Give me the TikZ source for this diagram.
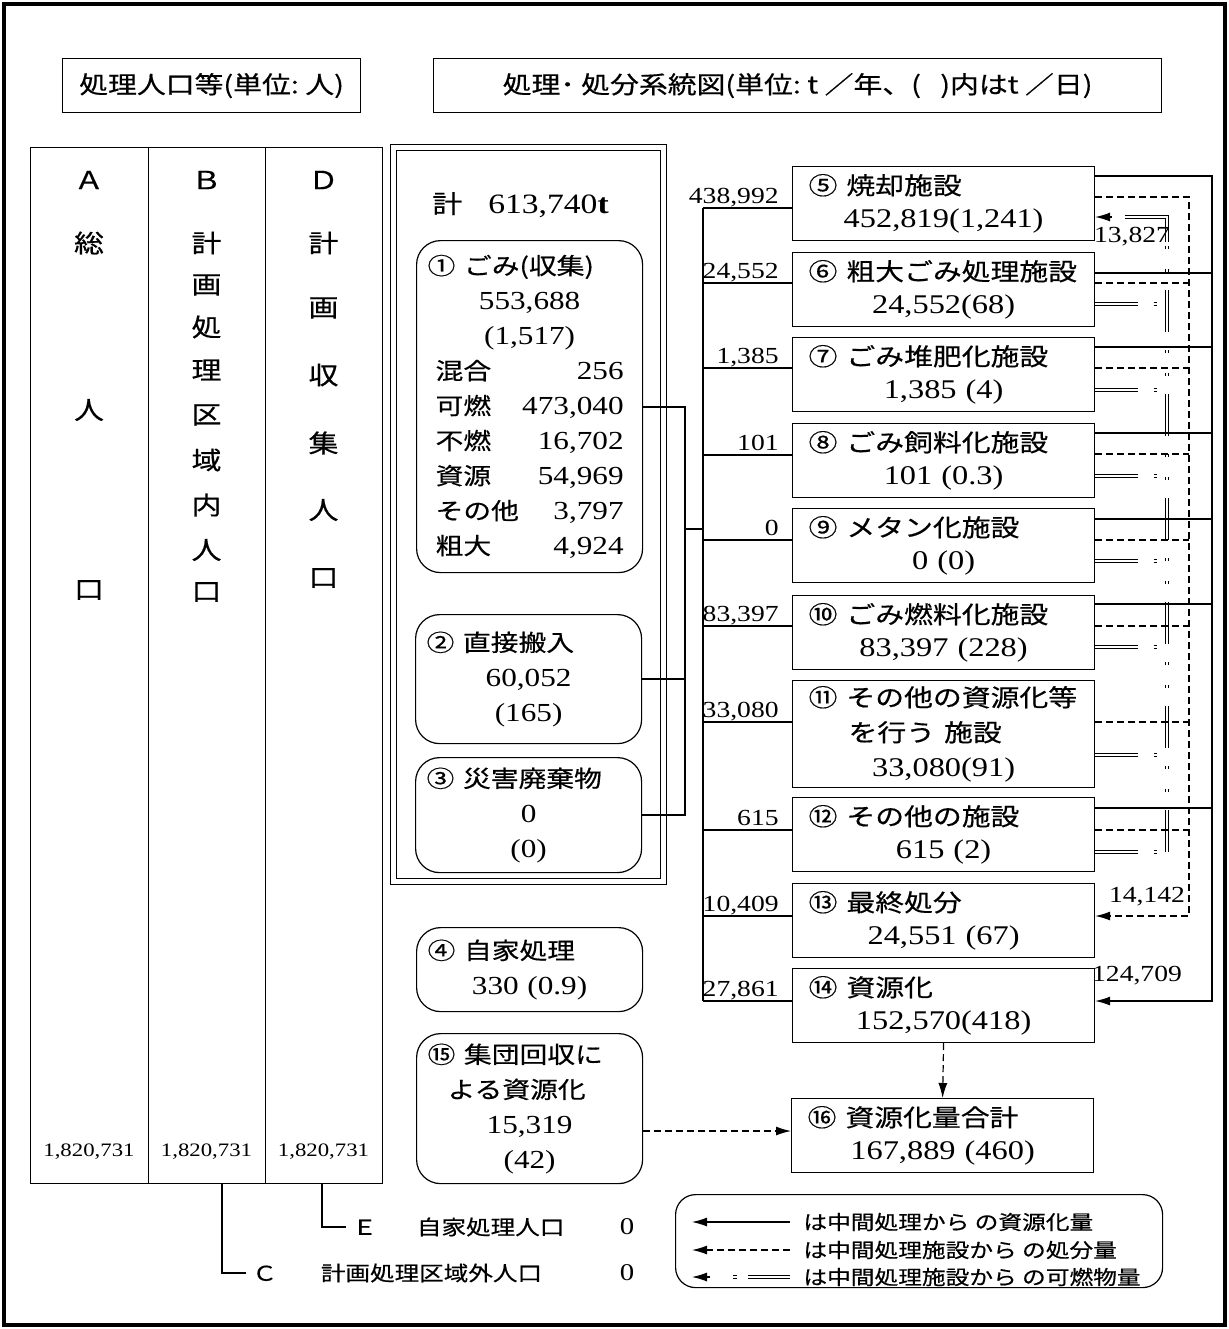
\documentclass[tikz,border=0pt]{standalone}
\usepackage{fontspec}
\setmainfont[FakeStretch=1.2]{Liberation Serif}
\newfontfamily\jp[FakeStretch=1.2,FakeBold=0.5,Scale=0.89]{Noto Sans CJK JP}
\usetikzlibrary{arrows.meta}
\newcommand\wrow[2]{\makebox[94pt]{{\jp #1}\hfill #2}}
\begin{document}
\begin{tikzpicture}[x=0.5pt,y=-0.5pt,
  fr/.style={draw,line width=0.6pt,anchor=north west,inner sep=0pt},
  fac/.style={draw,line width=0.6pt,anchor=north west,minimum width=151pt,minimum height=37pt,inner xsep=8pt,inner ysep=0pt,text width=135pt,align=center,font=\fontsize{13.5}{16.5}\selectfont},
  src/.style={draw,line width=0.6pt,rounded corners=12pt,anchor=north west,minimum width=113pt,inner xsep=5.5pt,inner ysep=0pt,text width=102pt,align=center,font=\fontsize{13}{17.5}\selectfont},
  lbl/.style={inner sep=0pt,anchor=base east,font=\fontsize{11.5}{12}\selectfont},
  rlbl/.style={inner sep=0pt,font=\fontsize{11.5}{12}\selectfont},
  tch/.style={inner sep=0pt,font=\fontsize{14}{15}\selectfont},
  trunk/.style={line width=1pt},
  res/.style={line width=0.55pt},
  disp/.style={line width=0.6pt,dash pattern=on 3.5pt off 2pt},
  comb/.style={double,line width=0.55pt,double distance=1pt},
  arrw/.style={-{Latex[length=7.5pt,width=4.5pt]}},
]
\useasboundingbox (0,0) rectangle (1229,1329);
\fill[white] (0,0) rectangle (1229,1329);
\draw[line width=1.6pt] (4,4) rectangle (1225,1325);

% headers
\node[fr,minimum width=149pt,minimum height=27pt,font=\fontsize{13.5}{16}\selectfont] (h1) at (62,58) {\jp 処理人口等(単位:\ 人)};
\node[fr,minimum width=364pt,minimum height=27pt,font=\fontsize{13.5}{16}\selectfont] (h2) at (433,58) {\jp 処理･ 処分系統図(単位:\ t ／年、(\ \ \ )内はt ／日)};

% population table
\node[fr,minimum width=59pt,minimum height=518pt] (colA) at (30,147) {};
\node[fr,minimum width=58.5pt,minimum height=518pt] (colB) at (148,147) {};
\node[fr,minimum width=58.5pt,minimum height=518pt] (colD) at (265,147) {};
\foreach \c/\y in {Ａ/180,総/243,人/410,口/590}
  \node[tch] (ca\y) at (89,\y) {\jp\c};
\foreach \c/\y in {Ｂ/180,計/243,画/285,処/327,理/370,区/415,域/460,内/505,人/550,口/592}
  \node[tch] (cb\y) at (206.5,\y) {\jp\c};
\foreach \c/\y in {Ｄ/180,計/243,画/308,収/375,集/443,人/510,口/578}
  \node[tch] (cd\y) at (323.5,\y) {\jp\c};
\node[font=\fontsize{9.5}{11}\selectfont] (pA) at (89,1152) {1,820,731};
\node[font=\fontsize{9.5}{11}\selectfont] (pB) at (206.5,1152) {1,820,731};
\node[font=\fontsize{9.5}{11}\selectfont] (pD) at (323.5,1152) {1,820,731};

\node[anchor=west,inner sep=0pt,font=\fontsize{11.5}{14}\selectfont] (eLbl) at (352,1227) {\jp Ｅ\hspace{20pt}自家処理人口};
\node[inner sep=0pt,font=\fontsize{12}{14}\selectfont] (eVal) at (627,1227) {0};
\node[anchor=west,inner sep=0pt,font=\fontsize{11.5}{14}\selectfont] (cLbl) at (252,1273) {\jp Ｃ\hspace{22pt}計画処理区域外人口};
\node[inner sep=0pt,font=\fontsize{12}{14}\selectfont] (cVal) at (627,1273) {0};
\draw[res] ([xshift=28.5pt]colD.south west) |- ([xshift=-3pt]eLbl.west);
\draw[res] ([xshift=37pt]colB.south west) |- ([xshift=-3pt]cLbl.west);

% left double frame and sources
\node[draw,double,double distance=2.4pt,line width=0.6pt,anchor=north west,inner sep=0pt,minimum width=135pt,minimum height=367pt] (frame) at (392.5,147) {};
\node[anchor=base west,inner sep=0pt,font=\fontsize{14}{16}\selectfont] (total) at (432,213) {{\jp 計}\hspace{13pt}613,740\textbf{t}};

\node[src,minimum height=166pt] (s1) at (416,240) {%
\makebox[102pt][l]{\jp ① ごみ(収集)}\\
553,688\\
(1,517)\\
\wrow{混合}{256}\\
\wrow{可燃}{473,040}\\
\wrow{不燃}{16,702}\\
\wrow{資源}{54,969}\\
\wrow{その他}{3,797}\\
\wrow{粗大}{4,924}};
\node[src,minimum height=64.5pt] (s2) at (415,614) {%
\makebox[102pt][l]{\jp ② 直接搬入}\\60,052\\(165)};
\node[src,minimum height=57.5pt] (s3) at (415,757) {%
\makebox[102pt][l]{\jp ③ 災害廃棄物}\\0\\(0)};
\node[src,minimum height=42pt] (s4) at (416,927) {%
\makebox[102pt][l]{\jp ④ 自家処理}\\330 (0.9)};
\node[src,minimum height=75pt] (s15) at (416,1033) {%
\makebox[102pt][l]{\jp ⑮ 集団回収に}\\
\makebox[102pt][l]{\hspace{10pt}\jp よる資源化}\\
15,319\\(42)};

% facilities
\node[fac] (b5) at (792,166) {\makebox[135pt][l]{\jp ⑤ 焼却施設}\\452,819(1,241)};
\node[fac] (b6) at (792,252) {\makebox[135pt][l]{\jp ⑥ 粗大ごみ処理施設}\\24,552(68)};
\node[fac] (b7) at (792,337) {\makebox[135pt][l]{\jp ⑦ ごみ堆肥化施設}\\1,385 (4)};
\node[fac] (b8) at (792,423) {\makebox[135pt][l]{\jp ⑧ ごみ飼料化施設}\\101 (0.3)};
\node[fac] (b9) at (792,508) {\makebox[135pt][l]{\jp ⑨ メタン化施設}\\0 (0)};
\node[fac] (b10) at (792,595) {\makebox[135pt][l]{\jp ⑩ ごみ燃料化施設}\\83,397 (228)};
\node[fac,minimum height=53.5pt,font=\fontsize{13.5}{17.5}\selectfont] (b11) at (792,680) {\makebox[135pt][l]{\jp ⑪ その他の資源化等}\\\makebox[135pt][l]{\hspace{20pt}\jp を行う 施設}\\33,080(91)};
\node[fac] (b12) at (792,797) {\makebox[135pt][l]{\jp ⑫ その他の施設}\\615 (2)};
\node[fac] (b13) at (792,883) {\makebox[135pt][l]{\jp ⑬ 最終処分}\\24,551 (67)};
\node[fac] (b14) at (792,968) {\makebox[135pt][l]{\jp ⑭ 資源化}\\152,570(418)};
\node[fac] (b16) at (791,1098) {\makebox[135pt][l]{\jp ⑯ 資源化量合計}\\167,889 (460)};

% left connections
\coordinate (jn) at (685,529);
\coordinate (tt) at (703,208);
\coordinate (tb) at (703,1001);
\draw[trunk] (s1.east) -| (jn);
\draw[trunk] (s2.east) -| (jn);
\draw[trunk] (s3.east) -| (jn);
\draw[trunk] (jn) -- (tt |- jn);
\draw[trunk] (tt) -- (tb);
\foreach \n/\y in {b5/208,b6/283,b7/368,b8/455,b9/540,b10/626,b11/722,b12/830,b13/916,b14/1001}
  \draw[trunk] (703,\y) -- (\n.west |- 0,\y);
\foreach \y/\t in {208/{438,992},283/{24,552},368/{1,385},455/{101},540/{0},626/{83,397},722/{33,080},830/{615},916/{10,409},1001/{27,861}}
  \node[lbl] (lab\y) at (779,\y-5) {\t};

% combustible (double) lines
\foreach \n/\y in {b6/304,b7/390,b8/476,b9/561,b10/647,b11/755,b12/852}
  \draw[comb,dash pattern=on 21.5pt off 8pt on 1.5pt off 20pt] (\n.east |- 0,\y) -- (1167,\y);
\draw[comb,dash pattern=on 21pt off 9pt on 1.5pt off 10pt on 1.5pt off 9pt] (1167,852) -- (1167,242);
\draw[comb] (1167,242) -- (1167,217) -- (1125,217);
\draw[res,arrw] (1112,217) -- (b5.east |- 0,217);

% resource (solid) lines
\foreach \n/\y in {b6/273,b7/347,b8/433,b9/519,b10/604,b12/808}
  \draw[res] (\n.east |- 0,\y) -- (1212,\y);
\draw[res,arrw] (b5.east |- 0,176) -- (1212,176) -- (1212,1001) -- (b14.east |- 0,1001);

% disposal (dashed) lines
\foreach \n/\y in {b6/283,b7/368,b8/454,b9/540,b10/626,b11/722,b12/830}
  \draw[disp] (\n.east |- 0,\y) -- (1189,\y);
\draw[disp,arrw] (b5.east |- 0,197) -- (1189,197) -- (1189,916) -- (b13.east |- 0,916);

\node[rlbl] (v1) at (1132,237) {13,827};
\node[rlbl] (v2) at (1147,897) {14,142};
\node[rlbl] (v3) at (1137,976) {124,709};

\draw[disp,arrw] (b14.south) -- (b16.north);
\draw[disp,arrw] (s15.east |- 0,1131) -- (b16.west |- 0,1131);

% legend
\node[draw,line width=0.6pt,rounded corners=10pt,anchor=north west,minimum width=243.5pt,minimum height=46.5pt] (leg) at (675,1194) {};
\node[anchor=west,inner sep=0pt,font=\fontsize{11.1}{14}\selectfont] (lg1) at (803,1222) {\jp は中間処理から の資源化量};
\node[anchor=west,inner sep=0pt,font=\fontsize{11.1}{14}\selectfont] (lg2) at (803,1250) {\jp は中間処理施設から の処分量};
\node[anchor=west,inner sep=0pt,font=\fontsize{11.1}{14}\selectfont] (lg3) at (803,1277) {\jp は中間処理施設から の可燃物量};
\draw[res,arrw] ([xshift=-6.5pt]lg1.west) -- ++(-49pt,0);
\draw[disp,arrw] ([xshift=-6.5pt]lg2.west) -- ++(-49pt,0);
\draw[comb,dash pattern=on 21pt off 5.5pt on 2pt off 30pt] ([xshift=-6.5pt]lg3.west) -- ++(-35pt,0);
\draw[res,arrw] ([xshift=-46.5pt]lg3.west) -- ++(-9pt,0);
\end{tikzpicture}
\end{document}
